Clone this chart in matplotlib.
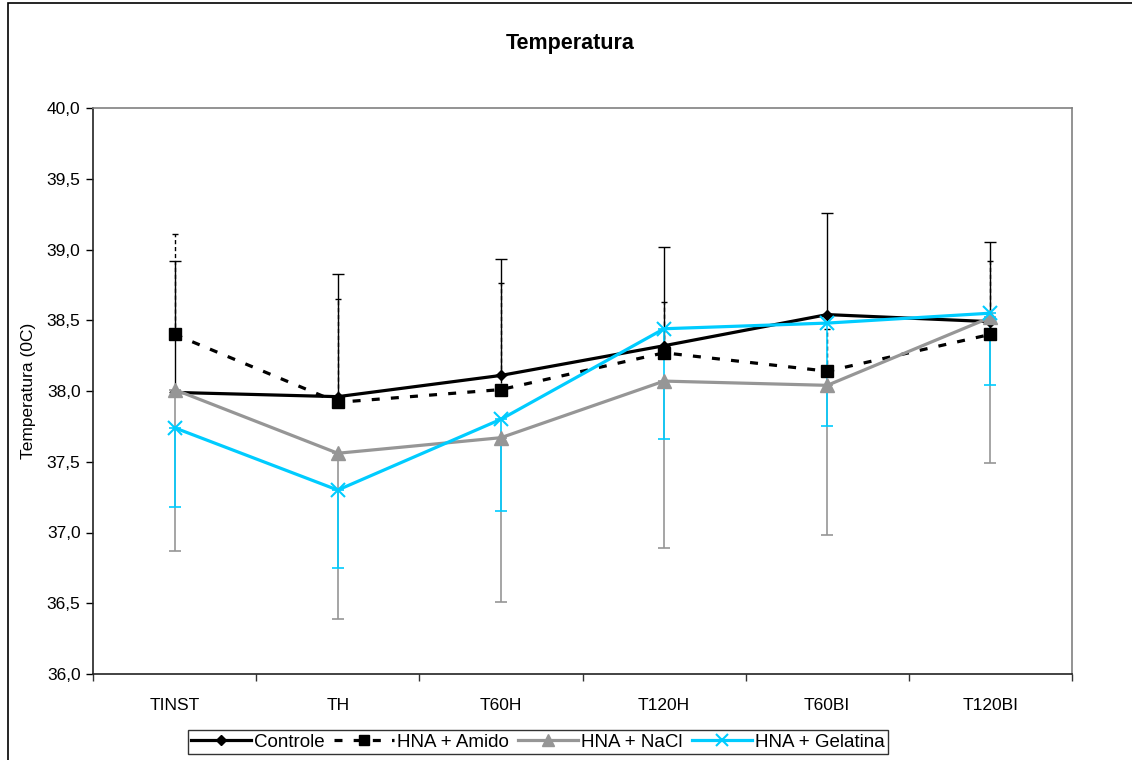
import matplotlib
matplotlib.use("Agg")
import matplotlib.pyplot as plt
from matplotlib.patches import Rectangle
from matplotlib.ticker import FixedLocator, FuncFormatter

plt.rcParams['font.family'] = ['Liberation Sans', 'DejaVu Sans']

categories = ["TINST", "TH", "T60H", "T120H", "T60BI", "T120BI"]

controle = [37.99, 37.96, 38.11, 38.32, 38.54, 38.49]
controle_up = [38.92, 38.83, 38.93, 39.02, 39.26, 39.05]

amido = [38.40, 37.92, 38.01, 38.27, 38.14, 38.40]
amido_up = [39.11, 38.65, 38.76, 38.63, 38.44, 38.92]

nacl = [38.01, 37.56, 37.67, 38.07, 38.04, 38.52]
nacl_low = [36.87, 36.39, 36.51, 36.89, 36.98, 37.49]

gelatina = [37.74, 37.30, 37.80, 38.44, 38.48, 38.55]
gelatina_low = [37.18, 36.75, 37.15, 37.66, 37.75, 38.04]

GRAY = "#969696"
CYAN = "#00CCFF"

fig = plt.figure(figsize=(11.32, 7.6), dpi=100)
ax = fig.add_axes([93 / 1132, 1 - 674 / 760, (1072 - 93) / 1132, (674 - 108) / 760])

x = list(range(len(categories)))

def err_up(vals, tops):
    return [[0] * len(vals), [t - v for v, t in zip(vals, tops)]]

def err_down(vals, lows):
    return [[v - l for v, l in zip(vals, lows)], [0] * len(vals)]

# Controle: upper error bars, solid black
ax.errorbar(x, controle, yerr=err_up(controle, controle_up), fmt='none',
            ecolor='black', elinewidth=1.0, capsize=4.5, capthick=1.0, zorder=2)
ax.plot(x, controle, color='black', lw=2.3, marker='D', ms=5.5,
        mfc='black', mec='black', zorder=3, label='Controle')

# HNA + Amido: upper error bars, dashed black
eb = ax.errorbar(x, amido, yerr=err_up(amido, amido_up), fmt='none',
                 ecolor='black', elinewidth=1.0, capsize=2.5, capthick=1.0, zorder=2)
for c in eb[2]:
    c.set_linestyle((0, (3, 2)))
ax.plot(x, amido, color='black', lw=2.3, ls=(0, (2.5, 3.5)), marker='s', ms=9,
        mfc='black', mec='black', zorder=3, label='HNA + Amido')

# HNA + NaCl: lower error bars, gray
ax.errorbar(x, nacl, yerr=err_down(nacl, nacl_low), fmt='none',
            ecolor=GRAY, elinewidth=1.2, capsize=4.5, capthick=1.2, zorder=2)
ax.plot(x, nacl, color=GRAY, lw=2.3, marker='^', ms=10,
        mfc=GRAY, mec=GRAY, zorder=3, label='HNA + NaCl')

# HNA + Gelatina: lower error bars, cyan
ax.errorbar(x, gelatina, yerr=err_down(gelatina, gelatina_low), fmt='none',
            ecolor=CYAN, elinewidth=1.2, capsize=4.5, capthick=1.2, zorder=2.5)
ax.plot(x, gelatina, color=CYAN, lw=2.3, marker='x', ms=10, mew=1.5,
        mfc=CYAN, mec=CYAN, zorder=3.5, label='HNA + Gelatina')

ax.set_xlim(-0.5, len(categories) - 0.5)
ax.set_ylim(36.0, 40.0)
ax.yaxis.set_major_locator(FixedLocator([36 + 0.5 * i for i in range(9)]))
ax.yaxis.set_major_formatter(FuncFormatter(lambda v, p: f"{v:.1f}".replace('.', ',')))
ax.set_xticks(x)
ax.set_xticklabels(categories)
ax.set_xticks([i + 0.5 for i in range(-1, len(categories))], minor=True)
ax.tick_params(axis='x', which='major', length=0, pad=17, labelsize=12.5)
ax.tick_params(axis='x', which='minor', length=5, width=1, direction='out', color='#333333')
ax.tick_params(axis='y', which='major', length=5, width=1, direction='out', labelsize=12.5, pad=4)

for side in ('left', 'bottom'):
    ax.spines[side].set_color('#222222')
    ax.spines[side].set_linewidth(1.2)
for side in ('top', 'right'):
    ax.spines[side].set_color('#808080')
    ax.spines[side].set_linewidth(1.2)

ax.set_ylabel("Temperatura (0C)", fontsize=12.5, labelpad=8)
fig.text(570 / 1132, 1 - 43 / 760, "Temperatura", ha='center', va='center',
         fontsize=15.5, fontweight='bold')

leg = fig.legend(loc='center', bbox_to_anchor=(538 / 1132, 1 - 742 / 760), ncol=4,
                 fontsize=13.5, frameon=True, fancybox=False, edgecolor='black',
                 handlelength=3.2, handletextpad=0.15, columnspacing=0.5,
                 borderpad=0.2, markerscale=0.85)
leg.get_frame().set_linewidth(1.0)

# outer chart-area border
fig.patches.append(Rectangle((8 / 1132, -0.05), 1.2, 1 - 3 / 760 + 0.05,
                             transform=fig.transFigure, fill=False,
                             edgecolor='black', lw=1.2, clip_on=False))

fig.savefig("out.png", dpi=100)
